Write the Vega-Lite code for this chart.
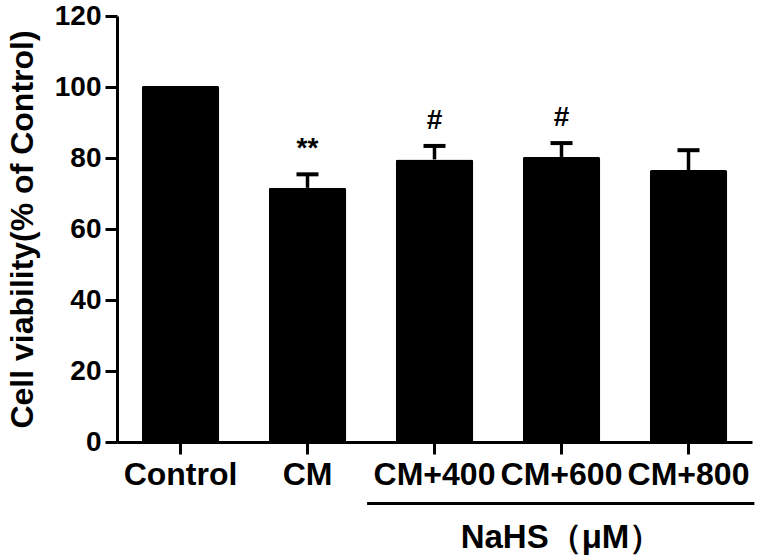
{
  "$schema": "https://vega.github.io/schema/vega-lite/v6.json",
  "width": 635,
  "height": 426,
  "autosize": "none",
  "padding": {"left": 117, "top": 16, "right": 8, "bottom": 118},
  "background": "white",
  "config": {
    "view": {"stroke": null},
    "font": "Liberation Sans",
    "axis": {"grid": false, "domainColor": "black", "domainWidth": 3, "tickColor": "black", "tickWidth": 3, "tickSize": 12, "labelColor": "black", "labelFont": "Liberation Sans", "labelFontWeight": "bold", "titleFont": "Liberation Sans", "titleFontWeight": "bold", "titleColor": "black"}
  },
  "datasets": {
    "bars": [
      {"group": "Control", "value": 100.3, "upper": null, "sig": ""},
      {"group": "CM", "value": 71.6, "upper": 75.4, "sig": "**"},
      {"group": "CM+400", "value": 79.6, "upper": 83.4, "sig": "#"},
      {"group": "CM+600", "value": 80.3, "upper": 84.2, "sig": "#"},
      {"group": "CM+800", "value": 76.6, "upper": 82.2, "sig": ""}
    ],
    "bracket": [
      {"from": "CM+400", "to": "CM+800", "mid": "CM+600", "line": -17.3, "labelY": -27, "label": "NaHS（μM）"}
    ]
  },
  "encoding": {
    "x": {"field": "group", "type": "nominal",
      "scale": {"domain": ["Control", "CM", "CM+400", "CM+600", "CM+800"], "paddingInner": 0.39, "paddingOuter": 0.195},
      "axis": {"title": null, "labelAngle": 0, "labelFontSize": 32, "labelPadding": 5}}
  },
  "layer": [
    {
      "data": {"name": "bars"},
      "mark": {"type": "bar", "color": "black", "cornerRadius": 2},
      "encoding": {
        "y": {"field": "value", "type": "quantitative", "scale": {"domain": [0, 120], "nice": false},
          "axis": {"values": [0, 20, 40, 60, 80, 100, 120], "title": "Cell viability(% of Control)", "labelFontSize": 28, "labelPadding": 4, "titleFontSize": 32, "titlePadding": 15}}
      }
    },
    {
      "data": {"name": "bars"},
      "transform": [{"filter": "datum.upper != null"}],
      "mark": {"type": "rule", "color": "black", "strokeWidth": 3.5},
      "encoding": {"y": {"field": "value", "type": "quantitative"}, "y2": {"field": "upper"}}
    },
    {
      "data": {"name": "bars"},
      "transform": [{"filter": "datum.upper != null"}],
      "mark": {"type": "tick", "color": "black", "size": 22, "thickness": 4, "opacity": 1},
      "encoding": {"y": {"field": "upper", "type": "quantitative"}}
    },
    {
      "data": {"name": "bars"},
      "transform": [{"filter": "datum.sig != ''"}],
      "mark": {"type": "text", "color": "black", "fontSize": 28, "fontWeight": "bold", "baseline": "middle", "dy": -25},
      "encoding": {"y": {"field": "upper", "type": "quantitative"}, "text": {"field": "sig"}}
    },
    {
      "data": {"name": "bracket"},
      "mark": {"type": "rule", "color": "black", "strokeWidth": 3},
      "encoding": {
        "x": {"field": "from", "type": "nominal", "bandPosition": -0.37},
        "x2": {"field": "to", "bandPosition": 1.35},
        "y": {"field": "line", "type": "quantitative"}
      }
    },
    {
      "data": {"name": "bracket"},
      "mark": {"type": "text", "color": "black", "fontSize": 33, "fontWeight": "bold", "baseline": "middle"},
      "encoding": {
        "x": {"field": "mid", "type": "nominal"},
        "y": {"field": "labelY", "type": "quantitative"},
        "text": {"field": "label"}
      }
    }
  ]
}
